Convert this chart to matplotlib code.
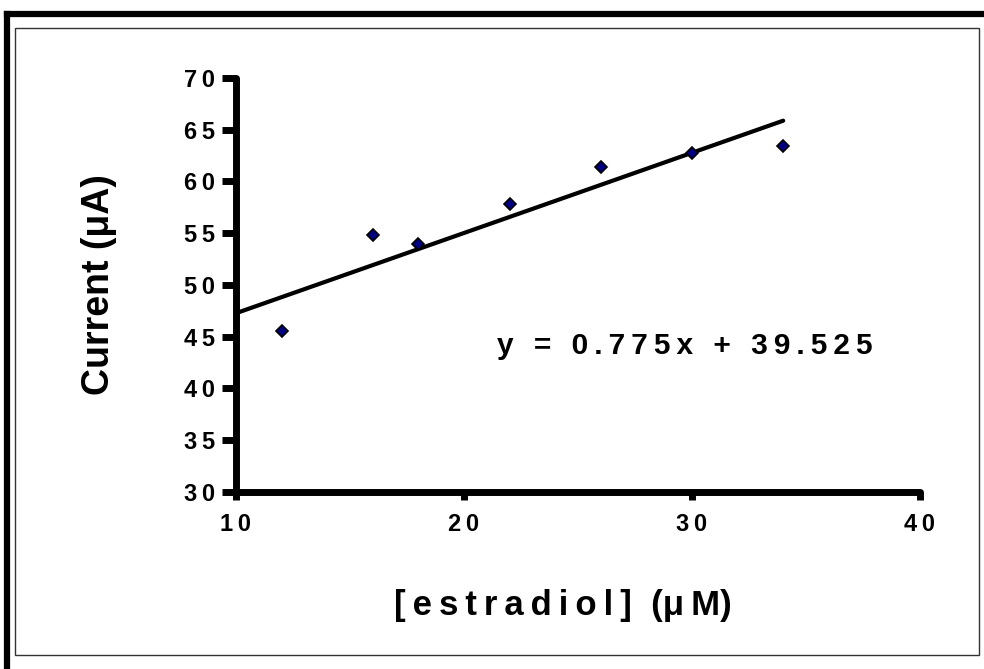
import matplotlib
matplotlib.use("Agg")
import matplotlib.pyplot as plt
from matplotlib.patches import Rectangle
from matplotlib.lines import Line2D

plt.rcParams['font.family'] = ['Liberation Sans', 'DejaVu Sans']

# data
conc = [12, 16, 18, 22, 26, 30, 34]
current = [45.6, 54.8, 54.0, 57.8, 61.4, 62.8, 63.4]
slope = 0.775
intercept = 39.525
x_ticks = [10, 20, 30, 40]
y_ticks = [30, 35, 40, 45, 50, 55, 60, 65, 70]

def spaced(s, gap="\u2009"):
    # imitate the wide letter spacing of the original
    return gap.join(s)

fig = plt.figure(figsize=(9.84, 6.69), dpi=100)

# outer frames
fig.add_artist(Line2D([7/984, 7/984], [0, 1 - 14/669], transform=fig.transFigure,
                      color="black", lw=4.5, solid_capstyle="projecting"))
fig.add_artist(Line2D([7/984, 1], [1 - 14/669, 1 - 14/669], transform=fig.transFigure,
                      color="black", lw=4.5, solid_capstyle="projecting"))
fig.add_artist(Rectangle((15/984, 1 - 655/669), (979 - 15)/984, (655 - 28)/669,
                         transform=fig.transFigure, fill=False, edgecolor="#333333", lw=1))

ax = fig.add_axes([236/984, 1 - 492/669, (920 - 236)/984, (492 - 78)/669])
ax.set_xlim(10, 40)
ax.set_ylim(30, 70)

fit_x = [10, 34]
fit_y = [slope * v + intercept for v in fit_x]
ax.plot(fit_x, fit_y, color="black", lw=3, solid_capstyle="round", clip_on=False)
ax.plot(conc, current, linestyle="none", marker="D", markersize=6,
        markerfacecolor="#000080", markeredgecolor="black", markeredgewidth=1.2,
        clip_on=False, zorder=3)

for s in ["top", "right"]:
    ax.spines[s].set_visible(False)
for s in ["left", "bottom"]:
    ax.spines[s].set_linewidth(5)
    ax.spines[s].set_capstyle("round")

ax.set_xticks(x_ticks)
ax.set_yticks(y_ticks)
ax.set_xticklabels([spaced(str(v)) for v in x_ticks])
ax.set_yticklabels([spaced(str(v)) for v in y_ticks])
ax.tick_params(direction="out", width=5, labelsize=17)
ax.tick_params(axis="x", length=6, pad=9)
ax.tick_params(axis="y", length=10, pad=5)
for lab in ax.get_xticklabels() + ax.get_yticklabels():
    lab.set_fontweight("bold")
for t in ax.xaxis.get_ticklines() + ax.yaxis.get_ticklines():
    t.set_solid_capstyle("round")

ax.set_xlabel(spaced("[estradiol]") + "  (" + spaced("\u03bcM") + ")",
              fontsize=25, fontweight="bold", labelpad=38, x=0.478)
ax.set_ylabel("Current (\u03bcA)", fontsize=27, fontweight="bold", labelpad=48)

ax.text(497/984, 1 - 346/669, spaced("y = 0.775x + 39.525"),
        transform=fig.transFigure, fontsize=21.5, fontweight="bold", va="center", ha="left")

fig.savefig("out.png", dpi=100)
